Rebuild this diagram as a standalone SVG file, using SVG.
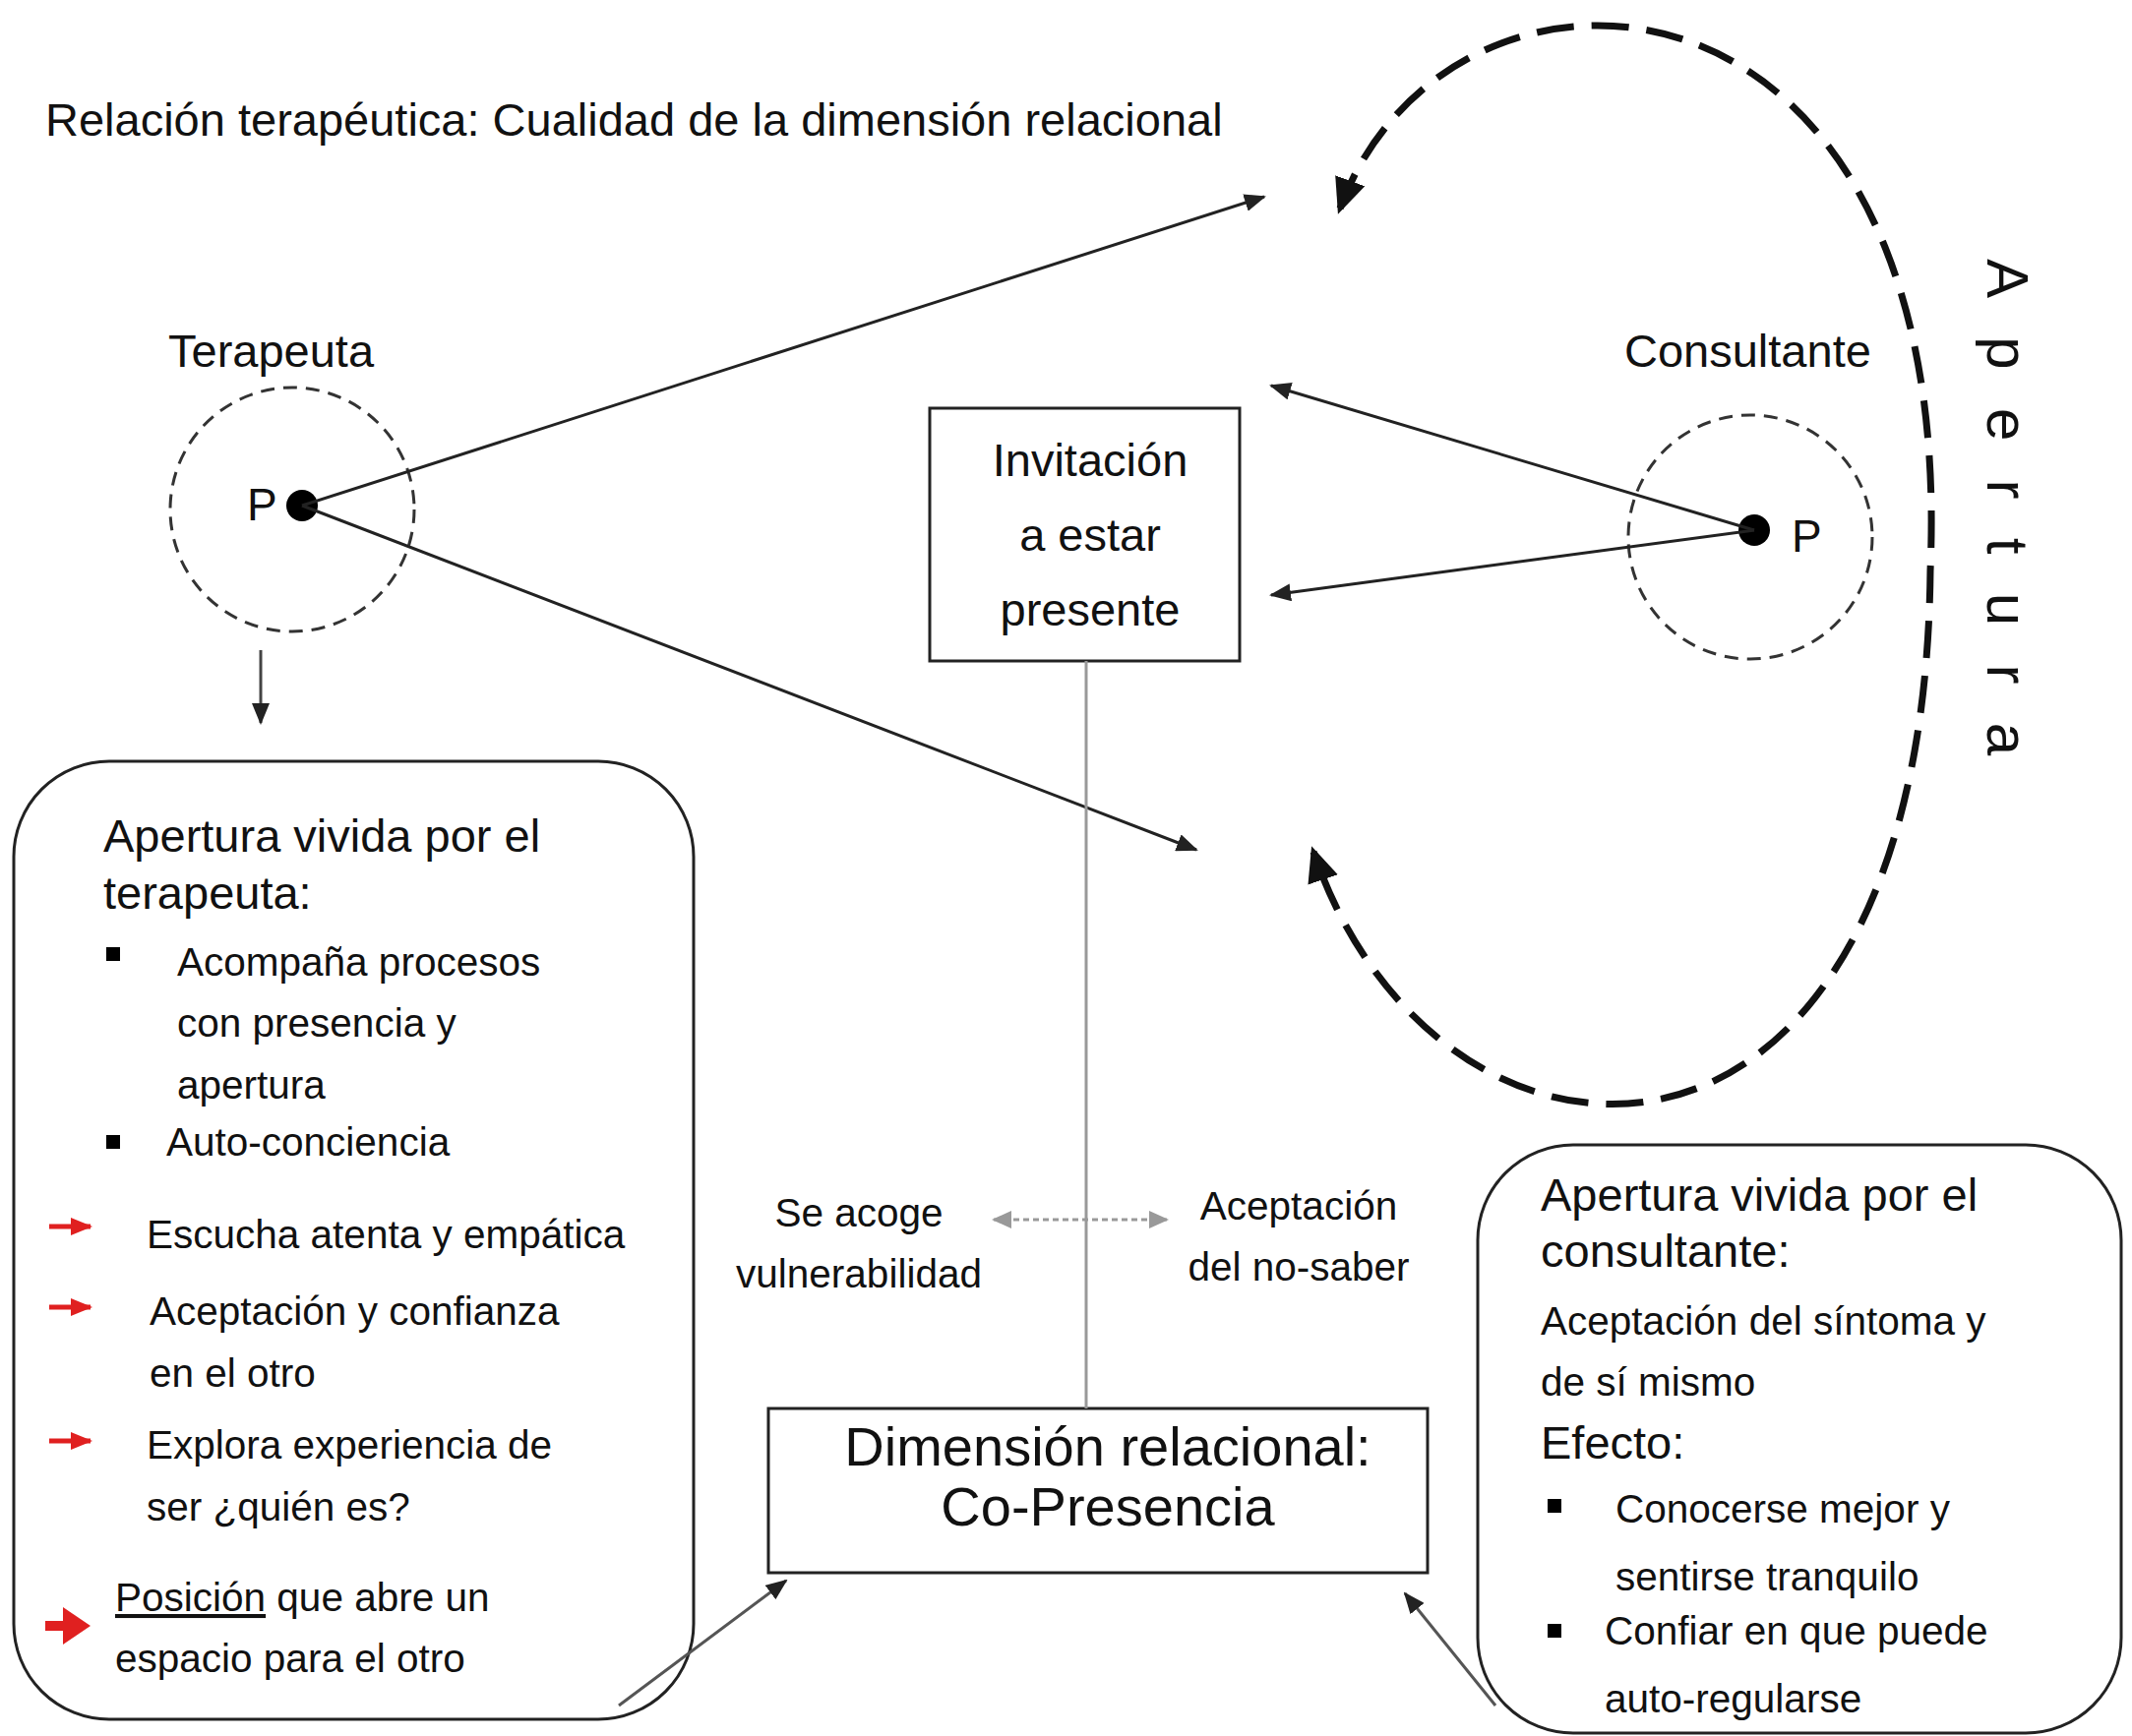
<svg xmlns="http://www.w3.org/2000/svg" width="2167" height="1765" viewBox="0 0 2167 1765">
<style>
text{font-family:"Liberation Sans",Arial,sans-serif;fill:#111}
.t44{font-size:46px}.t40{font-size:40.5px}.t46{font-size:47px}.t55{font-size:56px}
.ln{stroke:#222;stroke-width:3;fill:none}
.box{fill:#fff;stroke:#222;stroke-width:3}
.dc{fill:none;stroke:#333;stroke-width:3;stroke-dasharray:14 9}
.red{stroke:#e02020;stroke-width:5;fill:none}
</style>
<defs>
<marker id="ahs" markerWidth="22" markerHeight="18" refX="20" refY="9" orient="auto-start-reverse" markerUnits="userSpaceOnUse"><path d="M0,0 L22,9 L0,18 z" fill="#222"/></marker>
<marker id="big" markerWidth="40" markerHeight="40" refX="30" refY="20" orient="auto-start-reverse" markerUnits="userSpaceOnUse"><path d="M0,4 L36,20 L0,36 z" fill="#111"/></marker>
<marker id="gr" markerWidth="20" markerHeight="18" refX="18" refY="9" orient="auto-start-reverse" markerUnits="userSpaceOnUse"><path d="M0,0 L20,9 L0,18 z" fill="#999"/></marker>
<marker id="rd" markerWidth="22" markerHeight="22" refX="20" refY="11" orient="auto" markerUnits="userSpaceOnUse"><path d="M0,2 L22,11 L0,20 z" fill="#e02020"/></marker>
</defs>
<rect width="2167" height="1765" fill="#fff"/>
<text class="t44" x="46" y="138" style="font-size:47px">Relación terapéutica: Cualidad de la dimensión relacional</text>

<text transform="translate(2020,263) rotate(90)" textLength="505" lengthAdjust="spacing" style="font-size:60px">Apertura</text>

<g id="terapeuta">
<text class="t46" x="171" y="373">Terapeuta</text>
<circle class="dc" cx="297" cy="518" r="124"/>
<circle cx="307" cy="514" r="16" fill="#000"/>
<text class="t44" x="251" y="529">P</text>
</g>

<g id="consultante">
<text class="t46" x="1651" y="373">Consultante</text>
<circle class="dc" cx="1779" cy="546" r="124"/>
<circle cx="1783" cy="539" r="16" fill="#000"/>
<text class="t44" x="1821" y="561">P</text>
</g>

<g id="invitacion">
<rect class="box" x="945" y="415" width="315" height="257"/>
<text class="t46" x="1108" y="484" text-anchor="middle">Invitación</text>
<text class="t46" x="1108" y="560" text-anchor="middle">a estar</text>
<text class="t46" x="1108" y="636" text-anchor="middle">presente</text>
</g>

<g id="dimension">
<rect class="box" x="781" y="1432" width="670" height="167"/>
<text class="t55" x="1126" y="1490" text-anchor="middle">Dimensión relacional:</text>
<text class="t55" x="1126" y="1551" text-anchor="middle">Co-Presencia</text>
</g>

<g id="acoge">
<text class="t40" x="873" y="1247" text-anchor="middle">Se acoge</text>
<text class="t40" x="873" y="1309" text-anchor="middle">vulnerabilidad</text>
</g>
<g id="nosaber">
<text class="t40" x="1320" y="1240" text-anchor="middle">Aceptación</text>
<text class="t40" x="1320" y="1302" text-anchor="middle">del no-saber</text>
</g>

<g id="left-box">
<rect class="box" x="14" y="774" width="691" height="974" rx="97"/>
<text class="t46" x="105" y="866">Apertura vivida por el</text>
<text class="t46" x="105" y="924">terapeuta:</text>
<rect x="108" y="963" width="14" height="14" fill="#000"/>
<text class="t40" x="180" y="992">Acompaña procesos</text>
<text class="t40" x="180" y="1054">con presencia y</text>
<text class="t40" x="180" y="1117">apertura</text>
<rect x="108" y="1154" width="14" height="14" fill="#000"/>
<text class="t40" x="169" y="1175">Auto-conciencia</text>
<line class="red" x1="50" y1="1247" x2="92" y2="1247" marker-end="url(#rd)"/>
<text class="t40" x="149" y="1269">Escucha atenta y empática</text>
<line class="red" x1="50" y1="1329" x2="92" y2="1329" marker-end="url(#rd)"/>
<text class="t40" x="152" y="1347">Aceptación y confianza</text>
<text class="t40" x="152" y="1410">en el otro</text>
<line class="red" x1="50" y1="1465" x2="92" y2="1465" marker-end="url(#rd)"/>
<text class="t40" x="149" y="1483">Explora experiencia de</text>
<text class="t40" x="149" y="1546">ser ¿quién es?</text>
<line x1="46" y1="1653" x2="70" y2="1653" stroke="#e02020" stroke-width="10"/>
<path d="M64,1634 L92,1653 L64,1672 z" fill="#e02020"/>
<text class="t40" x="117" y="1638"><tspan text-decoration="underline">Posición</tspan> que abre un</text>
<text class="t40" x="117" y="1700">espacio para el otro</text>
</g>

<g id="right-box">
<rect class="box" x="1502" y="1164" width="654" height="598" rx="97"/>
<text class="t46" x="1566" y="1231">Apertura vivida por el</text>
<text class="t46" x="1566" y="1288">consultante:</text>
<text class="t40" x="1566" y="1357">Aceptación del síntoma y</text>
<text class="t40" x="1566" y="1419">de sí mismo</text>
<text class="t46" x="1566" y="1483">Efecto:</text>
<rect x="1573" y="1524" width="14" height="14" fill="#000"/>
<text class="t40" x="1642" y="1548">Conocerse mejor y</text>
<text class="t40" x="1642" y="1617">sentirse tranquilo</text>
<rect x="1573" y="1651" width="14" height="14" fill="#000"/>
<text class="t40" x="1631" y="1672">Confiar en que puede</text>
<text class="t40" x="1631" y="1741">auto-regularse</text>
</g>

<g id="connectors">
<line class="ln" x1="307" y1="514" x2="1285" y2="200" marker-end="url(#ahs)"/>
<line class="ln" x1="307" y1="514" x2="1216" y2="864" marker-end="url(#ahs)"/>
<line class="ln" x1="1783" y1="539" x2="1292" y2="392" marker-end="url(#ahs)"/>
<line class="ln" x1="1783" y1="539" x2="1292" y2="605" marker-end="url(#ahs)"/>
<line x1="265" y1="661" x2="265" y2="735" stroke="#444" stroke-width="3" marker-end="url(#ahs)"/>
<line x1="1104" y1="672" x2="1104" y2="1432" stroke="#999" stroke-width="3"/>
<line x1="1010" y1="1240" x2="1186" y2="1240" stroke="#999" stroke-width="3" stroke-dasharray="6 4" marker-start="url(#gr)" marker-end="url(#gr)"/>
<line x1="629" y1="1734" x2="799" y2="1607" stroke="#555" stroke-width="3" marker-end="url(#ahs)"/>
<line x1="1520" y1="1734" x2="1428" y2="1620" stroke="#555" stroke-width="3" marker-end="url(#ahs)"/>
<path d="M1362,212 C1470,-85 1990,-70 1962,580 C1955,1260 1460,1235 1335,866" fill="none" stroke="#111" stroke-width="7" stroke-dasharray="38 18" marker-start="url(#big)" marker-end="url(#big)"/>
</g>
</svg>
